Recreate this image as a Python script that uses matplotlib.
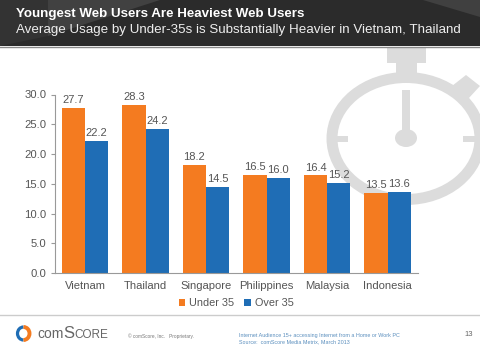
import matplotlib
matplotlib.use("Agg")
import numpy as np
import matplotlib.pyplot as plt
from matplotlib.patches import Arc, Ellipse, Polygon, Rectangle

plt.rcParams['font.family'] = ['Liberation Sans', 'DejaVu Sans']

# values
countries = ['Vietnam', 'Thailand', 'Singapore', 'Philippines', 'Malaysia', 'Indonesia']
under_35 = [27.7, 28.3, 18.2, 16.5, 16.4, 13.5]
over_35 = [22.2, 24.2, 14.5, 16.0, 15.2, 13.6]
y_ticks = [0, 5, 10, 15, 20, 25, 30]

W, H = 480, 350
fig = plt.figure(figsize=(W / 100, H / 100), dpi=100, facecolor='white')

# background layer in pixel coords (y down)
bg = fig.add_axes([0, 0, 1, 1])
bg.set_xlim(0, W)
bg.set_ylim(H, 0)
bg.axis('off')

# header band with faint facets
bg.add_patch(Rectangle((0, 0), W, 46, color='#2b2b2b', lw=0))
bg.add_patch(Polygon([[0, 0], [48, 0], [48, 36], [0, 46]], color='#333333', lw=0))
bg.add_patch(Polygon([[48, 0], [160, 0], [48, 36]], color='#414141', lw=0))
bg.add_patch(Polygon([[423, 0], [480, 0], [480, 17]], color='#404040', lw=0))
bg.plot([0, W], [46.5, 46.5], color='#8a8a8a', lw=1)
bg.text(16, 14.5, 'Youngest Web Users Are Heaviest Web Users', color='white',
        fontsize=9.63, fontweight='bold', va='center')
bg.text(16, 30.5, 'Average Usage by Under-35s is Substantially Heavier in Vietnam, Thailand',
        color='#eeeeee', fontsize=9.63, va='center')

# stopwatch
grey = '#dcdcdc'
bg.add_patch(Rectangle((387, 47), 39, 16, color=grey, lw=0))
bg.add_patch(Rectangle((396, 62), 21, 14, color=grey, lw=0))
bg.add_patch(Polygon([[452, 86], [466, 75], [480, 86], [468, 99]], color=grey, lw=0))
bg.add_patch(Ellipse((406, 138.5), 148, 122, fill=False, ec=grey, lw=7.9))
bg.add_patch(Rectangle((402, 90), 8, 45, color=grey, lw=0))
bg.add_patch(Ellipse((406, 138), 22, 18, color=grey, lw=0))
bg.add_patch(Rectangle((336, 135.5), 12, 6, color=grey, lw=0))
bg.add_patch(Rectangle((463, 135.5), 12, 6, color=grey, lw=0))

# chart
ax = fig.add_axes([54.7 / W, 1 - 273 / H, (418 - 54.7) / W, (273 - 94.5) / H])
ax.patch.set_alpha(0)
x = np.arange(len(countries))
w = 0.385
b1 = ax.bar(x - w / 2, under_35, w, color='#f47b20', label='Under 35')
b2 = ax.bar(x + w / 2, over_35, w, color='#1f6db5', label='Over 35')
ax.bar_label(b1, fmt='%.1f', padding=2, fontsize=8, color='#555555')
ax.bar_label(b2, fmt='%.1f', padding=2, fontsize=8, color='#555555')
ax.set_xlim(-0.5, len(countries) - 0.5)
ax.set_ylim(0, 30)
ax.set_yticks(y_ticks)
ax.set_yticklabels(['%.1f' % v for v in y_ticks])
ax.set_xticks(x)
ax.set_xticklabels(countries)
ax.tick_params(axis='x', length=0, pad=5.5, labelsize=8.1, labelcolor='#555555')
ax.tick_params(axis='y', length=3, pad=3, labelsize=8.1, labelcolor='#555555', color='#999999')
for s in ['top', 'right']:
    ax.spines[s].set_visible(False)
ax.spines['left'].set_color('#999999')
ax.spines['bottom'].set_color('#999999')
ax.legend(loc='upper center', bbox_to_anchor=(0.5, -0.11), ncol=2, frameon=False,
          fontsize=7.8, labelcolor='#555555', handlelength=0.6, handleheight=0.6,
          handletextpad=0.4, columnspacing=0.9, borderpad=0)

# footer
bg.plot([0, W], [314.5, 314.5], color='#cccccc', lw=1)
bg.add_patch(Arc((23.5, 333.5), 12, 13, theta1=90, theta2=270, ec='#1f6db5', lw=2.3))
bg.add_patch(Arc((23.5, 333.5), 12, 13, theta1=-90, theta2=90, ec='#f47b20', lw=2.8))
bg.text(37, 337.5, 'com', color='#666666', fontsize=10, va='baseline')
bg.text(63, 337.5, 'S', color='#666666', fontsize=12, va='baseline')
bg.text(74, 337.5, 'CORE', color='#666666', fontsize=8.5, va='baseline')
bg.text(128, 336, '© comScore, Inc.   Proprietary.', color='#777777', fontsize=3.4, va='center')
bg.text(239, 335, 'Internet Audience 15+ accessing Internet from a Home or Work PC', color='#5b8fbe',
        fontsize=3.9, va='center')
bg.text(239, 341.5, 'Source:  comScore Media Metrix, March 2013', color='#5b8fbe', fontsize=3.9, va='center')
bg.text(464, 335, '13', color='#666666', fontsize=5.5, va='center')

plt.savefig('out.png', dpi=100)
